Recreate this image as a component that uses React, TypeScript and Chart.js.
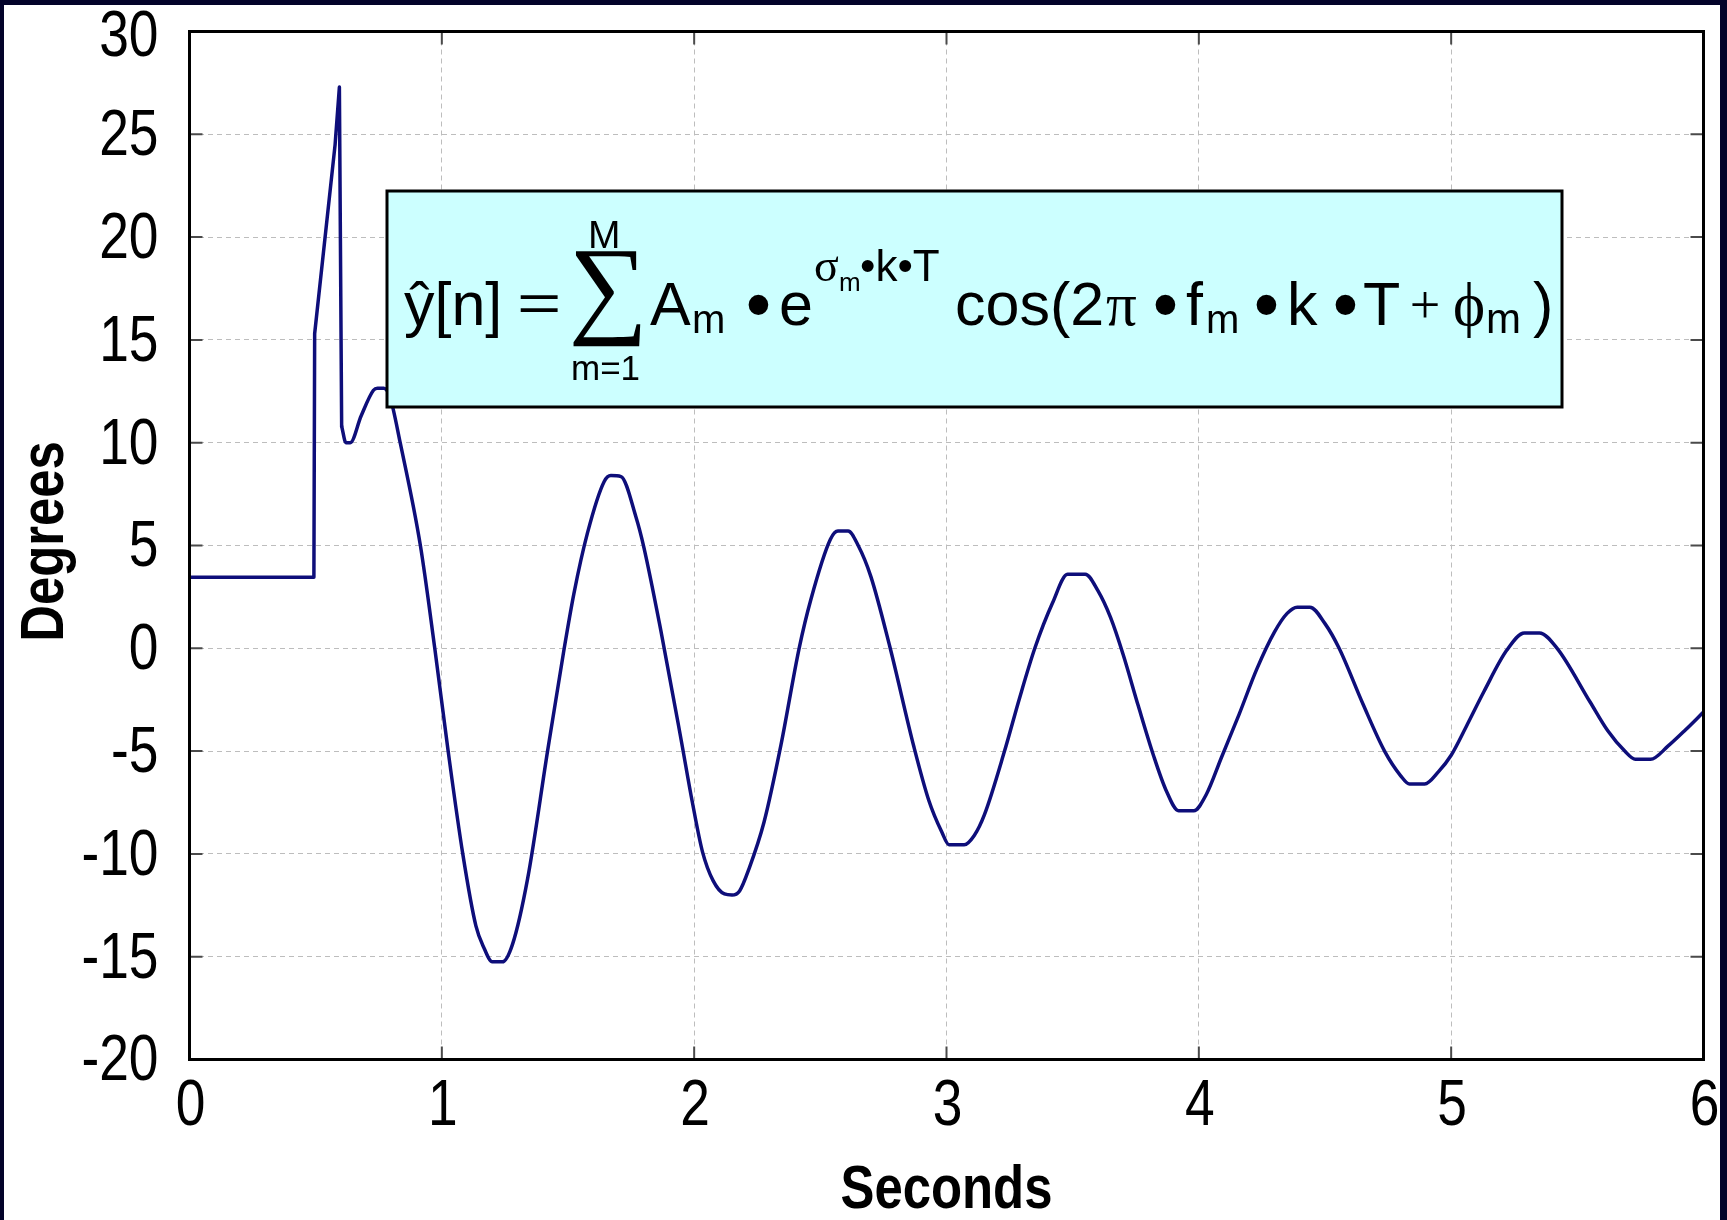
import React, { useEffect, useRef } from 'react';
import { Chart, registerables } from 'chart.js';

Chart.register(...registerables);

// ---- data ----
const timeS = [
  0, 0.493, 0.496, 0.577, 0.594, 0.603,
  0.62, 0.637, 0.68, 0.729, 0.745, 0.77, 0.795, 0.835, 0.915, 0.972, 1.025, 1.083, 1.135, 1.168,
  1.2, 1.24, 1.28, 1.34, 1.419, 1.485, 1.524, 1.577, 1.643, 1.67, 1.71, 1.769, 1.8, 1.868, 1.947,
  1.993, 2.033, 2.075, 2.12, 2.15, 2.18, 2.218, 2.277, 2.344, 2.416, 2.462, 2.54, 2.57, 2.61, 2.65,
  2.7, 2.775, 2.871, 2.93, 2.98, 3.01, 3.07, 3.11, 3.15, 3.23, 3.29, 3.35, 3.42, 3.48, 3.55, 3.6,
  3.65, 3.7, 3.76, 3.82, 3.87, 3.92, 3.98, 4.03, 4.09, 4.16, 4.23, 4.3, 4.35, 4.39, 4.44, 4.5,
  4.556, 4.65, 4.736, 4.8, 4.835, 4.895, 4.95, 5.0, 5.06, 5.13, 5.22, 5.29, 5.35, 5.42, 5.55, 5.62,
  5.688, 5.73, 5.79, 5.86, 5.93, 6.0,
];
const degrees = [
  3.45, 3.45, 15.3, 24.5, 27.3, 10.8,
  10.0, 10.0, 11.3, 12.55, 12.65, 12.65, 12.2, 10.0, 5.0, 0.0, -5.0, -10.0, -13.5, -14.6,
  -15.25, -15.25, -14.4, -11.2, -5.0, 0.0, 2.7, 5.6, 8.1, 8.4, 8.35, 6.4, 4.95, 0.86, -4.36,
  -7.5, -9.9, -11.3, -11.95, -12.0, -11.8, -10.7, -8.45, -4.7, 0.0, 2.35, 5.3, 5.7, 5.7, 5.0,
  3.5, 0.1, -4.8, -7.4, -8.9, -9.55, -9.55, -9.1, -8.1, -5.0, -2.4, 0.0, 2.2, 3.6, 3.6, 2.8,
  1.5, -0.3, -2.8, -5.2, -6.9, -7.9, -7.9, -7.1, -5.3, -3.2, -1.0, 0.8, 1.7, 2.0, 2.0, 1.2,
  0.0, -2.7, -5.0, -6.2, -6.6, -6.6, -6.0, -5.2, -3.8, -2.1, -0.1, 0.75, 0.75, 0.0, -2.6, -4.0,
  -5.0, -5.4, -5.4, -4.75, -3.95, -3.1,
];
// the first 6 samples (step + spike) are joined by straight segments
const SPIKE_END = 6;
const xTickValues = [0, 1, 2, 3, 4, 5, 6];
const yTickValues = [-20, -15, -10, -5, 0, 5, 10, 15, 20, 25, 30];
const xTitle = 'Seconds';
const yTitle = 'Degrees';

// ---- styles ----
const W = 1727;
const H = 1220;
const FRAME = '#03032a';
const LINE = '#0e0e7a';
const SANS = '"Liberation Sans", Arial, Helvetica, sans-serif';
const SERIF = '"Liberation Serif", "Times New Roman", serif';
const NARROW_X = 0.82;

// formula annotation pieces (text, font size, left x, baseline y, serif?)
type Piece = { t: string; s: number; x: number; y: number; serif?: boolean };
const formulaPieces: Piece[] = [
  { t: 'ŷ[n]', s: 61, x: 404, y: 325 },
  { t: 'M', s: 39, x: 588, y: 248 },
  { t: 'm=1', s: 35, x: 571, y: 380 },
  { t: 'A', s: 61, x: 650, y: 325 },
  { t: 'm', s: 40, x: 692, y: 333 },
  { t: 'e', s: 61, x: 779, y: 325 },
  { t: 'σ', s: 46, x: 814, y: 281, serif: true },
  { t: 'm', s: 26, x: 839, y: 291 },
  { t: '•k•T', s: 44, x: 860, y: 281 },
  { t: 'cos(2', s: 61, x: 955, y: 325 },
  { t: 'π', s: 61, x: 1106, y: 325, serif: true },
  { t: 'f', s: 61, x: 1186, y: 325 },
  { t: 'm', s: 40, x: 1206, y: 333 },
  { t: 'k', s: 61, x: 1287, y: 325 },
  { t: 'T', s: 61, x: 1363, y: 325 },
  { t: 'ϕ', s: 61, x: 1453, y: 325, serif: true },
  { t: 'm', s: 42, x: 1486, y: 333 },
  { t: ')', s: 61, x: 1533, y: 325 },
];
// glyphs fitted to boxes: [text, serif?, x0, y0, x1, y1]
const formulaFitted: [string, boolean, number, number, number, number][] = [
  ['=', false, 520, 295, 558, 312],
  ['∑', true, 573, 251, 641, 347],
  ['•', false, 748, 294, 769, 315],
  ['•', false, 1155, 294, 1176, 315],
  ['•', false, 1256, 294, 1277, 315],
  ['•', false, 1335, 294, 1356, 315],
  ['+', true, 1412, 291, 1438, 317],
];

function fitText(ctx: any, text: string, font: string, x0: number, y0: number, x1: number, y1: number) {
  ctx.font = font;
  const m = ctx.measureText(text);
  const inkW = m.actualBoundingBoxLeft + m.actualBoundingBoxRight;
  const inkH = m.actualBoundingBoxAscent + m.actualBoundingBoxDescent;
  const sx = (x1 - x0) / inkW;
  const sy = (y1 - y0) / inkH;
  ctx.save();
  ctx.translate(x0 + sx * m.actualBoundingBoxLeft, y0 + sy * m.actualBoundingBoxAscent);
  ctx.scale(sx, sy);
  ctx.textAlign = 'left';
  ctx.textBaseline = 'alphabetic';
  ctx.fillText(text, 0, 0);
  ctx.restore();
}

function narrowText(
  ctx: any, text: string, font: string, x: number, y: number,
  align: string, baseline: string, rotate = 0,
) {
  ctx.save();
  ctx.translate(x, y);
  if (rotate) ctx.rotate(rotate);
  ctx.scale(NARROW_X, 1);
  ctx.font = font;
  ctx.textAlign = align;
  ctx.textBaseline = baseline;
  ctx.fillText(text, 0, 0);
  ctx.restore();
}

const frameAndFormula = {
  id: 'frameAndFormula',
  beforeDraw(chart: any) {
    const ctx = chart.ctx;
    ctx.save();
    ctx.fillStyle = '#ffffff';
    ctx.fillRect(0, 0, W, H);
    ctx.restore();
  },
  afterDatasetsDraw(chart: any) {
    const ctx = chart.ctx;
    const { left, right, top, bottom } = chart.chartArea;
    const xs = chart.scales.x;
    const ys = chart.scales.y;
    ctx.save();
    // inward tick marks
    ctx.strokeStyle = '#4a4a4a';
    ctx.lineWidth = 2;
    ctx.setLineDash([]);
    ctx.beginPath();
    xTickValues.slice(1, -1).forEach((v) => {
      const px = xs.getPixelForValue(v);
      ctx.moveTo(px, bottom);
      ctx.lineTo(px, bottom - 13);
      ctx.moveTo(px, top);
      ctx.lineTo(px, top + 13);
    });
    yTickValues.slice(1, -1).forEach((v) => {
      const py = ys.getPixelForValue(v);
      ctx.moveTo(left, py);
      ctx.lineTo(left + 13, py);
      ctx.moveTo(right, py);
      ctx.lineTo(right - 13, py);
    });
    ctx.stroke();
    // plot box
    ctx.strokeStyle = '#000000';
    ctx.lineWidth = 3;
    ctx.strokeRect(left, top, right - left, bottom - top);

    // tick labels and axis titles (condensed sans)
    ctx.fillStyle = '#000000';
    const tickFont = `65px ${SANS}`;
    yTickValues.forEach((v) => {
      const py = Math.max(ys.getPixelForValue(v) + 3, top + 7);
      narrowText(ctx, String(v), tickFont, left - 31, py, 'right', 'middle');
    });
    xTickValues.forEach((v) => {
      narrowText(ctx, String(v), tickFont, xs.getPixelForValue(v) + 1, bottom + 65.5, 'center', 'alphabetic');
    });
    const titleFont = `bold 62px ${SANS}`;
    narrowText(ctx, xTitle, titleFont, (left + right) / 2, 1208, 'center', 'alphabetic');
    narrowText(ctx, yTitle, titleFont, 63, (top + bottom) / 2 - 4, 'center', 'alphabetic', -Math.PI / 2);

    // formula box
    const bx = 387, by = 191, bw = 1562 - 387, bh = 407 - 191;
    ctx.fillStyle = '#ccffff';
    ctx.fillRect(bx, by, bw, bh);
    ctx.strokeStyle = '#000000';
    ctx.lineWidth = 3;
    ctx.strokeRect(bx, by, bw, bh);

    ctx.fillStyle = '#000000';
    ctx.textAlign = 'left';
    ctx.textBaseline = 'alphabetic';
    formulaPieces.forEach((p) => {
      ctx.font = `${p.s}px ${p.serif ? SERIF : SANS}`;
      ctx.fillText(p.t, p.x, p.y);
    });
    formulaFitted.forEach(([t, serif, x0, y0, x1, y1]) => {
      fitText(ctx, t, `100px ${serif ? SERIF : SANS}`, x0, y0, x1, y1);
    });
    ctx.restore();
  },
  afterDraw(chart: any) {
    const ctx = chart.ctx;
    ctx.save();
    ctx.fillStyle = FRAME;
    ctx.fillRect(0, 0, W, 5);
    ctx.fillRect(0, 0, 4, H);
    ctx.fillRect(1720, 0, W - 1720, H);
    ctx.restore();
  },
};

export default function App() {
  const ref = useRef<HTMLCanvasElement | null>(null);

  useEffect(() => {
    document.body.style.margin = '0';
    const canvas = ref.current;
    if (!canvas) return;
    const points = timeS.map((t, i) => ({ x: t, y: degrees[i] }));
    const lineStyle = {
      borderColor: LINE,
      borderWidth: 3.5,
      pointRadius: 0,
      fill: false,
      borderJoinStyle: 'round',
      borderCapStyle: 'round',
    };
    const noPad = (scale: any) => {
      scale.paddingTop = 0;
      scale.paddingBottom = 0;
      scale.paddingLeft = 0;
      scale.paddingRight = 0;
    };
    const chart = new Chart(canvas, {
      type: 'line',
      data: {
        datasets: [
          { ...lineStyle, data: points.slice(0, SPIKE_END), tension: 0 },
          { ...lineStyle, data: points.slice(SPIKE_END - 1), cubicInterpolationMode: 'monotone' },
        ],
      },
      options: {
        animation: false,
        responsive: false,
        maintainAspectRatio: false,
        devicePixelRatio: 1,
        events: [],
        layout: {
          autoPadding: false,
          padding: { top: 31.5, right: 23.5, left: 0, bottom: 0 },
        },
        plugins: {
          legend: { display: false },
          tooltip: { enabled: false },
          title: { display: false },
        },
        scales: {
          x: {
            type: 'linear',
            min: 0,
            max: 6,
            afterBuildTicks: (scale: any) => {
              scale.ticks = xTickValues.map((v) => ({ value: v }));
            },
            afterFit: (scale: any) => {
              scale.height = 160.5;
              noPad(scale);
            },
            grid: { color: '#bdbdbd', lineWidth: 1, drawTicks: false },
            border: { display: false, dash: [5, 4] },
            ticks: { display: false },
            title: { display: false, text: xTitle },
          },
          y: {
            type: 'linear',
            min: -20,
            max: 30,
            afterBuildTicks: (scale: any) => {
              scale.ticks = yTickValues.map((v) => ({ value: v }));
            },
            afterFit: (scale: any) => {
              scale.width = 189.5;
              noPad(scale);
            },
            grid: { color: '#bdbdbd', lineWidth: 1, drawTicks: false },
            border: { display: false, dash: [5, 4] },
            ticks: { display: false },
            title: { display: false, text: yTitle },
          },
        },
      },
      plugins: [frameAndFormula],
    } as any);
    return () => chart.destroy();
  }, []);

  return (
    <div style={{ position: 'fixed', left: 0, top: 0, width: W, height: H, background: FRAME }}>
      <canvas ref={ref} width={W} height={H} style={{ width: W, height: H, display: 'block' }} />
    </div>
  );
}
